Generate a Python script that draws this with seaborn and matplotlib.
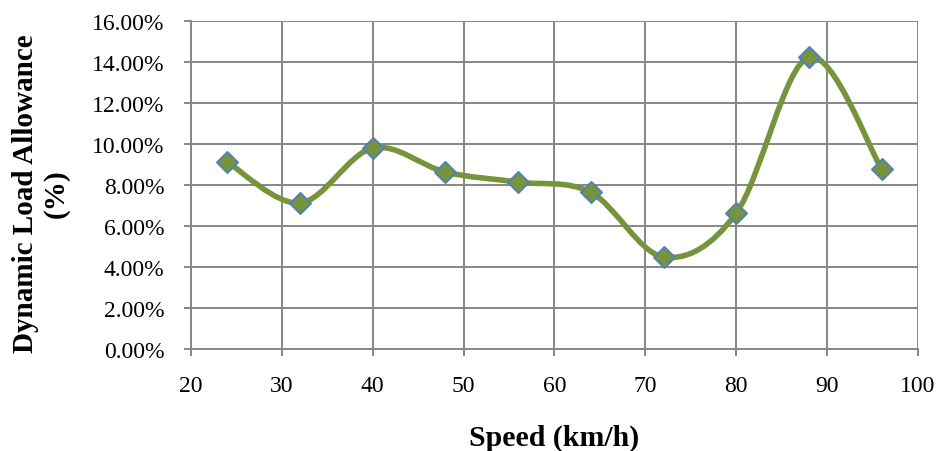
import numpy as np
import pandas as pd
import matplotlib
matplotlib.use("Agg")
import matplotlib.pyplot as plt
from matplotlib.path import Path
from matplotlib.patches import PathPatch
from matplotlib.ticker import FuncFormatter, MultipleLocator
import seaborn as sns

speed = [24, 32, 40, 48, 56, 64, 72, 80, 88, 96]
dla = [9.12, 7.12, 9.80, 8.63, 8.14, 7.64, 4.49, 6.63, 14.24, 8.78]

sns.set_theme(style="white")
plt.rcParams['font.family'] = ['Liberation Serif', 'DejaVu Serif']

fig = plt.figure(figsize=(9.38, 4.52), dpi=100)
ax = fig.add_axes([0.2036, 0.2257, 0.9787 - 0.2036, 0.9513 - 0.2257])

line_col = "#77933C"
edge_col = "#4F81BD"
grid_col = "#868686"

# smooth (Excel-like Bezier) curve through data points
pts = np.column_stack([speed, dla]).astype(float)
n = len(pts)
verts = [tuple(pts[0])]
codes = [Path.MOVETO]
for i in range(n - 1):
    p0 = pts[i - 1] if i > 0 else pts[i]
    p1 = pts[i]
    p2 = pts[i + 1]
    p3 = pts[i + 2] if i + 2 < n else pts[i + 1]
    c1 = p1 + (p2 - p0) / 6.0
    c2 = p2 - (p3 - p1) / 6.0
    verts += [tuple(c1), tuple(c2), tuple(p2)]
    codes += [Path.CURVE4] * 3
ax.add_patch(PathPatch(Path(verts, codes), facecolor="none", edgecolor=line_col,
                       lw=4.0, capstyle="round", joinstyle="round", zorder=3))

df = pd.DataFrame({"speed": speed, "dla": dla})
sns.scatterplot(data=df, x="speed", y="dla", marker="D", s=115, color=line_col,
                edgecolor=edge_col, linewidth=1.4, ax=ax, zorder=4, legend=False)

ax.set_xlim(20, 100)
ax.set_ylim(0, 16)
ax.xaxis.set_major_locator(MultipleLocator(10))
ax.yaxis.set_major_locator(MultipleLocator(2))
ax.yaxis.set_major_formatter(FuncFormatter(lambda v, p: f"{v:.2f}%"))

ax.grid(True, color=grid_col, lw=1.4)
ax.set_axisbelow(True)
for s in ["top", "right"]:
    ax.spines[s].set_visible(False)
for s in ["left", "bottom"]:
    ax.spines[s].set_color(grid_col)
    ax.spines[s].set_linewidth(1.4)

ax.tick_params(axis="both", which="major", direction="out", length=5, width=1.4,
               color=grid_col, labelsize=17, labelcolor="black")
ax.tick_params(axis="x", pad=14, bottom=True)
ax.tick_params(axis="y", pad=14, left=True)

ax.set_xlabel("Speed (km/h)", fontsize=21.5, fontweight="bold", labelpad=20, color="black")
ax.set_ylabel("Dynamic Load Allowance\n(%)", fontsize=21, fontweight="bold",
              labelpad=16, color="black", linespacing=1.15)
ax.yaxis.label.set_y(0.476)

fig.savefig("out.png", dpi=100)
